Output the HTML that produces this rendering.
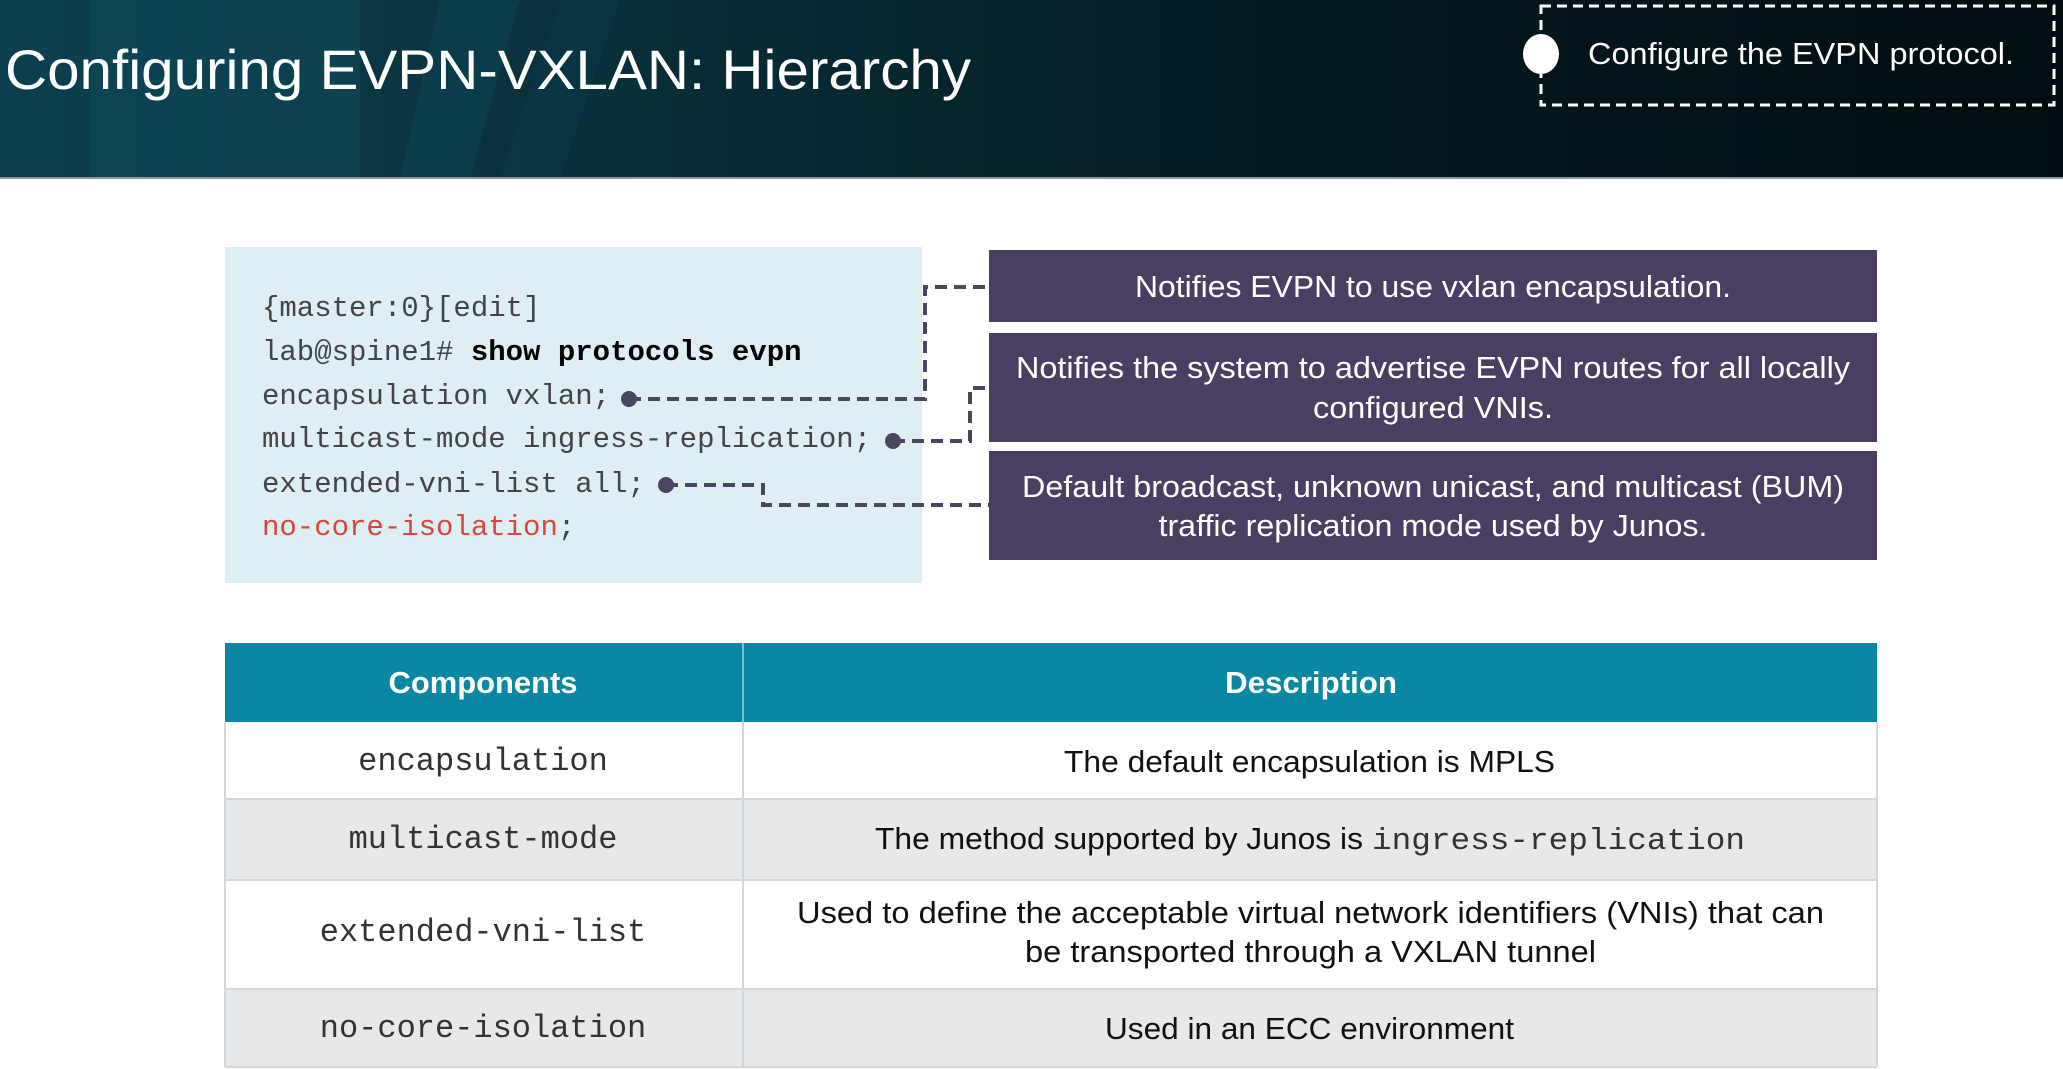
<!DOCTYPE html>
<html><head><meta charset="utf-8"><style>
html,body{margin:0;padding:0;background:#fff;width:2063px;height:1069px;overflow:hidden}
svg{display:block}
.s{font-family:"Liberation Sans",sans-serif}
.m{font-family:"Liberation Mono",monospace}
</style></head><body>
<svg width="2063" height="1069" viewBox="0 0 2063 1069" xmlns="http://www.w3.org/2000/svg">
<defs>
<linearGradient id="hg" x1="0" y1="0" x2="1" y2="0">
<stop offset="0" stop-color="#0c3f4e"/><stop offset="0.3" stop-color="#082f3a"/><stop offset="0.6" stop-color="#041b22"/><stop offset="1" stop-color="#020d11"/>
</linearGradient>
</defs>
<rect x="0" y="0" width="2063" height="178" fill="url(#hg)"/>
<rect x="90" y="0" width="270" height="178" fill="#0e4a5a" opacity="0.55"/>
<polygon points="440,0 520,0 470,178 400,178" fill="#0d4655" opacity="0.5"/>
<polygon points="560,0 620,0 560,178 500,178" fill="#0a3a47" opacity="0.5"/>
<rect x="0" y="177" width="2063" height="2" fill="#8a9a9e"/>
<text class="s" x="5" y="89" font-size="56" fill="#fff" textLength="966" lengthAdjust="spacingAndGlyphs">Configuring EVPN-VXLAN: Hierarchy</text>
<rect x="1541" y="6" width="513" height="99" fill="none" stroke="#fff" stroke-width="3" stroke-dasharray="10,6"/>
<ellipse cx="1541" cy="54" rx="18" ry="20" fill="#fff"/>
<text class="s" x="1588" y="64" font-size="31" fill="#fff" textLength="426" lengthAdjust="spacingAndGlyphs">Configure the EVPN protocol.</text>

<rect x="225" y="247" width="697" height="336" fill="#ddeef4"/>
<g class="m" font-size="29" fill="#444">
<text x="262" y="316">{master:0}[edit]</text>
<text x="262" y="360">lab@spine1# <tspan font-weight="bold" fill="#000">show protocols evpn</tspan></text>
<text x="262" y="404">encapsulation vxlan;</text>
<text x="262" y="447">multicast-mode ingress-replication;</text>
<text x="262" y="492">extended-vni-list all;</text>
<text x="262" y="535"><tspan fill="#d9463b">no-core-isolation</tspan>;</text>
</g>

<g fill="#4a3f63">
<rect x="989" y="250" width="888" height="72"/>
<rect x="989" y="333" width="888" height="109"/>
<rect x="989" y="451" width="888" height="109"/>
</g>
<g stroke="#4a4560" stroke-width="4" fill="none" stroke-dasharray="12,7">
<path d="M629 399 H925 V287 H989"/>
<path d="M893 441 H970 V388 H989"/>
<path d="M666 485 H763 V505 H989"/>
</g>
<g fill="#4a4560"><circle cx="629" cy="399" r="8"/><circle cx="893" cy="441" r="8"/><circle cx="666" cy="485" r="8"/></g>
<g class="s" font-size="31" fill="#fff" text-anchor="middle">
<text x="1433" y="297" textLength="596" lengthAdjust="spacingAndGlyphs">Notifies EVPN to use vxlan encapsulation.</text>
<text x="1433" y="378" textLength="834" lengthAdjust="spacingAndGlyphs">Notifies the system to advertise EVPN routes for all locally</text>
<text x="1433" y="418" textLength="240" lengthAdjust="spacingAndGlyphs">configured VNIs.</text>
<text x="1433" y="497" textLength="822" lengthAdjust="spacingAndGlyphs">Default broadcast, unknown unicast, and multicast (BUM)</text>
<text x="1433" y="536" textLength="549" lengthAdjust="spacingAndGlyphs">traffic replication mode used by Junos.</text>
</g>

<rect x="225" y="643" width="1652" height="79" fill="#0a87a3"/>
<rect x="225" y="722" width="1652" height="77" fill="#fff"/>
<rect x="225" y="799" width="1652" height="81" fill="#e6e8e9"/>
<rect x="225" y="880" width="1652" height="109" fill="#fff"/>
<rect x="225" y="989" width="1652" height="78" fill="#e6e8e9"/>
<g stroke="#d4d8da" stroke-width="2">
<line x1="225" y1="799" x2="1877" y2="799"/><line x1="225" y1="880" x2="1877" y2="880"/><line x1="225" y1="989" x2="1877" y2="989"/><line x1="225" y1="1067" x2="1877" y2="1067"/>
<line x1="225" y1="722" x2="225" y2="1067"/><line x1="1877" y1="722" x2="1877" y2="1067"/>
<line x1="743" y1="722" x2="743" y2="1067"/>
</g>
<line x1="743" y1="643" x2="743" y2="722" stroke="#6fc0d2" stroke-width="2"/>
<g class="s" font-size="31" fill="#fff" font-weight="bold" text-anchor="middle">
<text x="483" y="693" textLength="189" lengthAdjust="spacingAndGlyphs">Components</text>
<text x="1311" y="693" textLength="172" lengthAdjust="spacingAndGlyphs">Description</text>
</g>
<g class="m" font-size="32" fill="#333" text-anchor="middle">
<text x="483" y="770">encapsulation</text>
<text x="483" y="848">multicast-mode</text>
<text x="483" y="941">extended-vni-list</text>
<text x="483" y="1037">no-core-isolation</text>
</g>
<g class="s" font-size="31" fill="#111">
<text x="1064" y="772" textLength="491" lengthAdjust="spacingAndGlyphs">The default encapsulation is MPLS</text>
<text x="875" y="849" textLength="488" lengthAdjust="spacingAndGlyphs">The method supported by Junos is</text>
<text class="m" x="1372" y="849" font-size="31" fill="#333" textLength="373" lengthAdjust="spacingAndGlyphs">ingress-replication</text>
<text x="797" y="923" textLength="1027" lengthAdjust="spacingAndGlyphs">Used to define the acceptable virtual network identifiers (VNIs) that can</text>
<text x="1025" y="962" textLength="571" lengthAdjust="spacingAndGlyphs">be transported through a VXLAN tunnel</text>
<text x="1105" y="1039" textLength="409" lengthAdjust="spacingAndGlyphs">Used in an ECC environment</text>
</g>
</svg>
</body></html>
